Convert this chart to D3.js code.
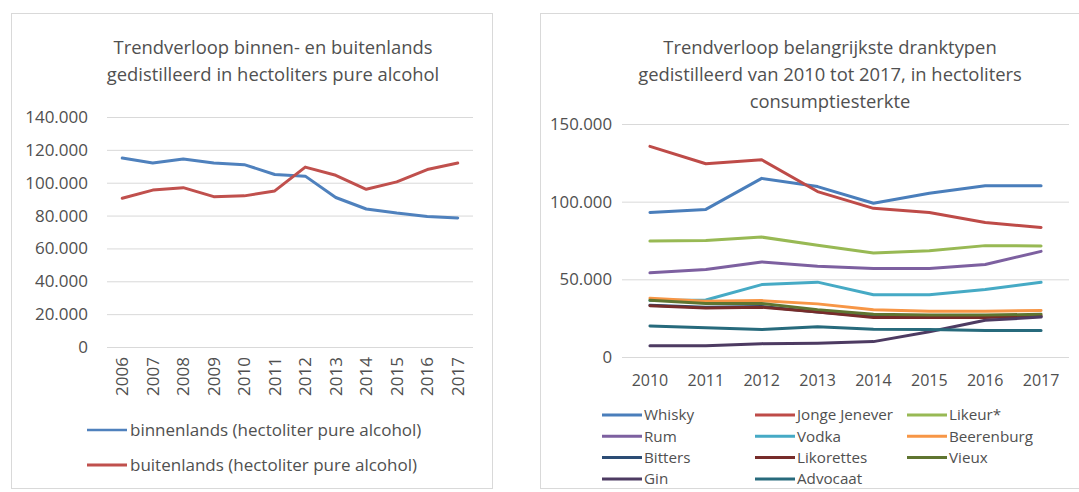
<!DOCTYPE html>
<html><head><meta charset="utf-8">
<script src="https://cdn.jsdelivr.net/npm/d3@7"></script>
<style>
html,body{margin:0;padding:0;background:#fff;}
svg{display:block;font-family:"Open Sans",sans-serif;}
</style></head><body>
<svg id="c" width="1079" height="492"></svg>
<script>
// ---------- data: left chart ----------
const yearsA = ["2006","2007","2008","2009","2010","2011","2012","2013","2014","2015","2016","2017"];
const binnenlands = [115000,112000,114500,112000,111000,105000,104000,91000,84000,81500,79500,78500];
const buitenlands = [90500,95500,97000,91500,92000,95000,109500,104500,96000,100500,108000,112000];
const ticksA = [0,20000,40000,60000,80000,100000,120000,140000];
const seriesNamesA = ["binnenlands (hectoliter pure alcohol)","buitenlands (hectoliter pure alcohol)"];
const colorsA = ["#4f81bd","#c0504d"];

// ---------- data: right chart ----------
const yearsB = ["2010","2011","2012","2013","2014","2015","2016","2017"];
const whisky      = [93000,95000,115000,109700,99000,105400,110300,110300];
const jongeJenever= [135600,124400,127000,106500,95700,93000,86600,83400];
const likeur      = [74600,75000,77200,72000,67000,68400,71700,71500];
const rum         = [54200,56300,61200,58400,57000,57000,59500,68000];
const vodka       = [36300,36700,46600,48200,40100,40100,43500,48100];
const beerenburg  = [37800,35900,36300,34200,30400,29500,29500,30000];
const bitters     = [33300,32000,32500,29000,26000,26000,26000,26000];
const likorettes  = [33000,31500,32000,29000,25500,25500,25500,26500];
const vieux       = [36500,34500,34500,30500,27500,27000,27000,27500];
const gin         = [7200,7200,8600,8900,9900,16200,23600,25700];
const advocaat    = [20000,18800,17700,19400,17900,17700,17100,17100];
const namesB = ["Whisky","Jonge Jenever","Likeur*","Rum","Vodka","Beerenburg","Bitters","Likorettes","Vieux","Gin","Advocaat"];
const valuesB = [whisky,jongeJenever,likeur,rum,vodka,beerenburg,bitters,likorettes,vieux,gin,advocaat];
const colorsB = ["#4a7ebb","#be4b48","#98b954","#7d60a0","#46aac5","#f79646","#2c4d75","#772c2a","#5f7530","#4d3b62","#276a7c"];
const ticksB = [0,50000,100000,150000];

const fmt = v => v===0 ? "0" : d3.format(",")(v).replace(/,/g,".");
const svg = d3.select("#c");
const txt = "#505050", grid = "#d9d9d9";

// ---------- panels ----------
svg.append("rect").attr("x",11.5).attr("y",13.5).attr("width",481).attr("height",475)
  .attr("fill","#fff").attr("stroke","#d9d9d9");
svg.append("rect").attr("x",540.5).attr("y",13.5).attr("width",560).attr("height",475)
  .attr("fill","#fff").attr("stroke","#d9d9d9");

// ---------- left chart ----------
{
  const g = svg.append("g");
  const x = d3.scaleBand().domain(yearsA).range([107,473]);
  const y = d3.scaleLinear().domain([0,140000]).range([347,117]);
  g.append("text").attr("x",273).attr("y",54).attr("text-anchor","middle").attr("fill",txt)
    .style("font-size","18.4px").text("Trendverloop binnen- en buitenlands");
  g.append("text").attr("x",273).attr("y",81).attr("text-anchor","middle").attr("fill",txt)
    .style("font-size","18.4px").text("gedistilleerd in hectoliters pure alcohol");
  const ax = g.append("g").attr("transform","translate(107,0)")
    .call(d3.axisLeft(y).tickValues(ticksA).tickSize(-366).tickFormat(fmt).tickPadding(19));
  ax.select(".domain").remove();
  ax.selectAll("line").attr("stroke",grid);
  ax.selectAll("text").attr("fill",txt).style("font-size","17px").style("font-family","'Open Sans',sans-serif");
  g.selectAll(".xl").data(yearsA).enter().append("text")
    .attr("transform",d=>`translate(${x(d)+x.bandwidth()/2},357) rotate(-90)`)
    .attr("text-anchor","end").attr("dy","0.35em").attr("fill",txt).style("font-size","17px").text(d=>d);
  const line = d3.line().x((d,i)=>x(yearsA[i])+x.bandwidth()/2).y(d=>y(d));
  [binnenlands,buitenlands].forEach((s,i)=>{
    g.append("path").attr("d",line(s)).attr("fill","none").attr("stroke",colorsA[i]).attr("stroke-width",3).attr("stroke-linejoin","round").attr("stroke-linecap","round");
  });
  seriesNamesA.forEach((n,i)=>{
    const yy = 430 + i*35;
    g.append("line").attr("x1",87).attr("x2",127).attr("y1",yy).attr("y2",yy).attr("stroke",colorsA[i]).attr("stroke-width",i?3:2.5);
    g.append("text").attr("x",130).attr("y",yy).attr("dy","0.35em").attr("fill",txt).style("font-size","17px").text(n);
  });
}

// ---------- right chart ----------
{
  const g = svg.append("g");
  const x = d3.scaleBand().domain(yearsB).range([622,1069]);
  const y = d3.scaleLinear().domain([0,150000]).range([357,124]);
  const cx = 830;
  ["Trendverloop belangrijkste dranktypen","gedistilleerd van 2010 tot 2017, in hectoliters","consumptiesterkte"].forEach((t,i)=>{
    g.append("text").attr("x",cx).attr("y",54+i*27).attr("text-anchor","middle").attr("fill",txt)
      .style("font-size","18.4px").text(t);
  });
  const ax = g.append("g").attr("transform","translate(622,0)")
    .call(d3.axisLeft(y).tickValues(ticksB).tickSize(-447).tickFormat(fmt).tickPadding(10));
  ax.select(".domain").remove();
  ax.selectAll("line").attr("stroke",grid);
  ax.selectAll("text").attr("fill",txt).style("font-size","16.8px").style("font-family","'Open Sans',sans-serif");
  g.selectAll(".xl").data(yearsB).enter().append("text")
    .attr("x",d=>x(d)+x.bandwidth()/2).attr("y",380).attr("dy","0.35em")
    .attr("text-anchor","middle").attr("fill",txt).style("font-size","16px").text(d=>d);
  const line = d3.line().x((d,i)=>x(yearsB[i])+x.bandwidth()/2).y(d=>y(d));
  valuesB.forEach((s,i)=>{
    g.append("path").attr("d",line(s)).attr("fill","none").attr("stroke",colorsB[i]).attr("stroke-width",3).attr("stroke-linejoin","round").attr("stroke-linecap","round");
  });
  const colX = [602,755,907];
  namesB.forEach((n,i)=>{
    const c = i%3, r = Math.floor(i/3);
    const yy = 415 + r*21.3;
    g.append("line").attr("x1",colX[c]).attr("x2",colX[c]+40).attr("y1",yy).attr("y2",yy).attr("stroke",colorsB[i]).attr("stroke-width",3);
    g.append("text").attr("x",colX[c]+42).attr("y",yy).attr("dy","0.35em").attr("fill",txt).style("font-size","15.2px").text(n);
  });
}
</script></body></html>
